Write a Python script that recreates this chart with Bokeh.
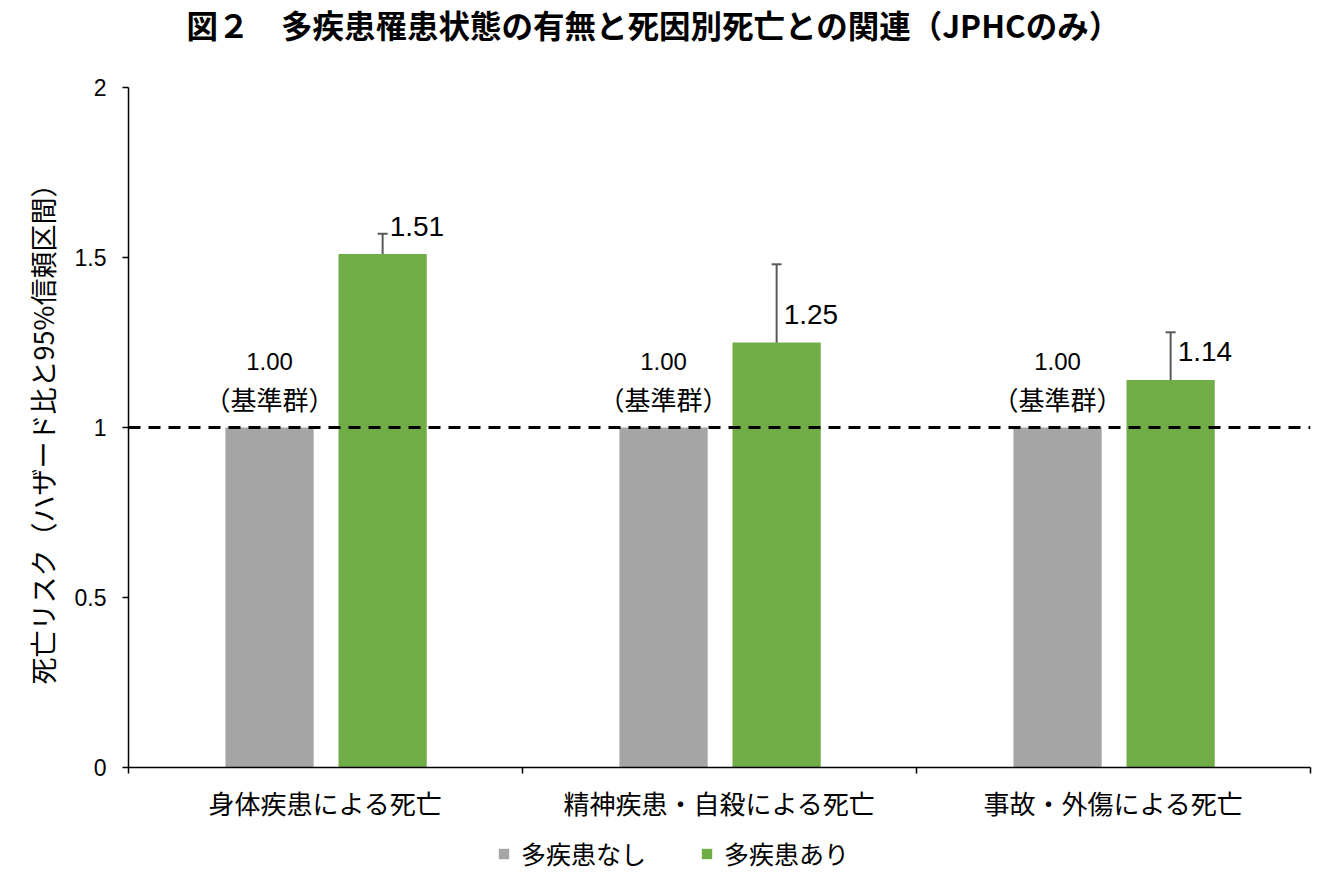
from bokeh.plotting import figure
from bokeh.layouts import column
from bokeh.models import (ColumnDataSource, Range1d, FixedTicker, LinearAxis, Span,
                          Whisker, TeeHead, Legend, LegendItem, Label)
from bokeh.core.properties import value
from bokeh.embed import file_html
from bokeh.resources import INLINE

title_text = "図２　多疾患罹患状態の有無と死因別死亡との関連（JPHCのみ）"
y_label = "死亡リスク（ハザード比と95%信頼区間）"
categories = ["身体疾患による死亡", "精神疾患・自殺による死亡", "事故・外傷による死亡"]
series_names = ["多疾患なし", "多疾患あり"]
ref_values = [1.00, 1.00, 1.00]
multi_values = [1.51, 1.25, 1.14]
multi_lower = [1.44, 1.05, 1.02]
multi_upper = [1.57, 1.48, 1.28]
ref_label_top = ["1.00", "1.00", "1.00"]
ref_label_bottom = ["（基準群）", "（基準群）", "（基準群）"]
multi_labels = ["1.51", "1.25", "1.14"]
y_ticks = [0, 0.5, 1, 1.5, 2]

GRAY = "#A5A5A5"
GREEN = "#70AD47"
JP = "Noto Sans CJK JP"
NUM = "Liberation Sans"

W = 1326
LEFT, RIGHT = 128, 16
TITLE_H = 55
LEG_H = 56
MAIN_H = 881 - TITLE_H - LEG_H

n = len(categories)
cat_x = [i + 0.5 for i in range(n)]
gray_x = [c - 0.142 for c in cat_x]
green_x = [c + 0.145 for c in cat_x]
bw = 0.224


def blank_fig(h):
    # strip whose data units equal page pixels (x measured from page left, y from strip bottom)
    f = figure(width=W, height=h, output_backend="svg", toolbar_location=None,
               x_range=Range1d(LEFT, W - RIGHT), y_range=Range1d(0, h),
               min_border_left=LEFT, min_border_right=RIGHT, min_border_top=0, min_border_bottom=0,
               x_axis_type=None, y_axis_type=None)
    f.outline_line_color = None
    f.xgrid.visible = False
    f.ygrid.visible = False
    return f


# ---- title strip
tf = blank_fig(TITLE_H)
tf.add_layout(Label(x=653, y=TITLE_H - 23, text=title_text, text_font=JP, text_font_size="31.5px",
                    text_font_style="bold", text_color="black",
                    text_align="center", text_baseline="middle"))

# ---- main chart
p = figure(width=W, height=MAIN_H, output_backend="svg", toolbar_location=None,
           x_range=Range1d(0, n), y_range=Range1d(0, 2),
           min_border_left=LEFT, min_border_right=RIGHT, min_border_top=32, min_border_bottom=58,
           x_axis_type=None, y_axis_type=None)
p.outline_line_color = None
p.xgrid.visible = False
p.ygrid.visible = False

src_g = ColumnDataSource(dict(x=gray_x, top=ref_values, t1=ref_label_top, t2=ref_label_bottom))
src_m = ColumnDataSource(dict(x=green_x, top=multi_values, lo=multi_lower, up=multi_upper, t=multi_labels))

p.vbar(x="x", top="top", bottom=0, width=bw, source=src_g, fill_color=GRAY, line_color=None)
p.vbar(x="x", top="top", bottom=0, width=bw, source=src_m, fill_color=GREEN, line_color=None)

wh = Whisker(base="x", upper="up", lower="lo", source=src_m, line_color="#595959", line_width=2,
             upper_head=TeeHead(size=10, line_color="#595959", line_width=2),
             lower_head=TeeHead(size=10, line_color="#595959", line_width=2))
p.add_layout(wh)

p.add_layout(Span(location=1, dimension="width", line_color="black", line_width=3, line_dash="12 8"))

p.text(x="x", y="top", text="t1", source=src_g, text_font=value(NUM), text_font_size="24px",
       text_align="center", text_baseline="middle", y_offset=-66, text_color="black")
p.text(x="x", y="top", text="t2", source=src_g, text_font=value(JP), text_font_size="26px",
       text_align="center", text_baseline="middle", y_offset=-29, text_color="black")
p.text(x="x", y="top", text="t", source=src_m, text_font=value(NUM), text_font_size="28px",
       text_align="left", text_baseline="middle", x_offset=7, y_offset=-28, text_color="black")

ya = LinearAxis(ticker=FixedTicker(ticks=y_ticks),
                major_label_overrides={t: ("%g" % t) for t in y_ticks})
ya.axis_line_color = "black"
ya.axis_line_width = 1.5
ya.major_tick_out = 6
ya.major_tick_in = 0
ya.minor_tick_line_color = None
ya.major_tick_line_width = 1.5
ya.major_label_text_font = NUM
ya.major_label_text_font_size = "23px"
ya.major_label_text_color = "black"
ya.major_label_standoff = 16
ya.axis_label = y_label
ya.axis_label_text_font = JP
ya.axis_label_text_font_size = "27px"
ya.axis_label_text_font_style = "normal"
ya.axis_label_text_color = "black"
ya.axis_label_standoff = 10
p.add_layout(ya, "left")

xa = LinearAxis(ticker=FixedTicker(ticks=[i for i in range(n + 1)]),
                major_label_overrides={i: "" for i in range(n + 1)})
xa.axis_line_color = "black"
xa.axis_line_width = 1.5
xa.major_tick_out = 6
xa.major_tick_in = 0
xa.major_tick_line_width = 1.5
xa.minor_tick_line_color = None
xa.major_label_text_font_size = "1px"
xa.major_label_standoff = 0
p.add_layout(xa, "below")

xa2 = LinearAxis(ticker=FixedTicker(ticks=cat_x),
                 major_label_overrides={c: lab for c, lab in zip(cat_x, categories)})
xa2.axis_line_color = None
xa2.major_tick_line_color = None
xa2.major_tick_out = 0
xa2.major_tick_in = 0
xa2.minor_tick_line_color = None
xa2.major_label_text_font = JP
xa2.major_label_text_font_size = "26px"
xa2.major_label_text_color = "black"
xa2.major_label_standoff = 10
p.add_layout(xa2, "below")

# ---- legend strip (zero-height proxy bars far outside the range; only their swatches show)
lf = blank_fig(LEG_H)
lg = lf.vbar(x=[-5000], top=[0], bottom=0, width=1, fill_color=GRAY, line_color=None)
lm = lf.vbar(x=[-5000], top=[0], bottom=0, width=1, fill_color=GREEN, line_color=None)
legend = Legend(items=[LegendItem(label=series_names[0], renderers=[lg]),
                       LegendItem(label=series_names[1], renderers=[lm])],
                orientation="horizontal", location=(497 - LEFT, 10),
                padding=0, margin=0, spacing=54, glyph_width=13, glyph_height=13,
                label_standoff=11, label_text_font=JP, label_text_font_size="25px",
                label_text_color="black",
                border_line_color=None, background_fill_alpha=0)
lf.add_layout(legend, "center")

layout = column(tf, p, lf, spacing=0)
open("out.html", "w").write(file_html(layout, INLINE))
